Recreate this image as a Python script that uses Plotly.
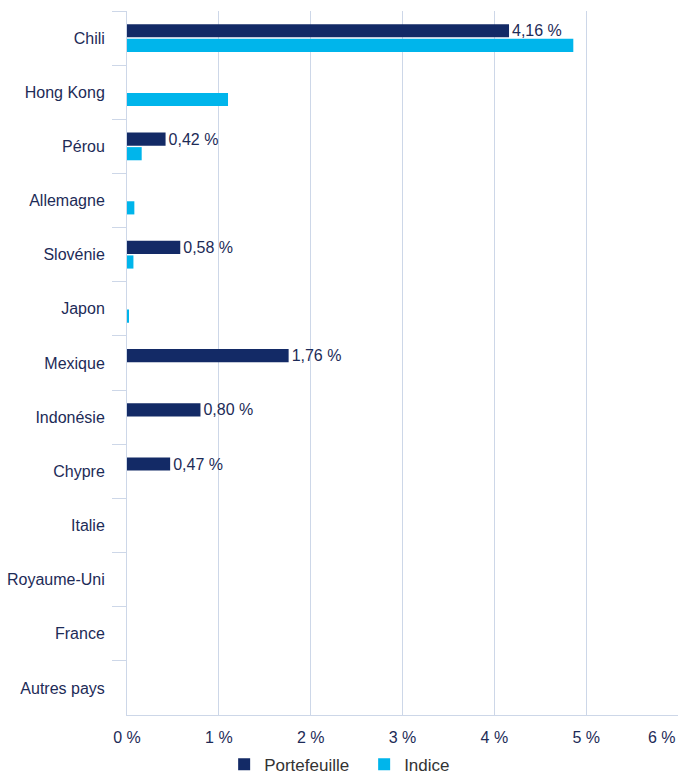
import plotly.graph_objects as go

# Répartition géographique (en % de l'actif)
pays = [
    "Chili", "Hong Kong", "Pérou", "Allemagne", "Slovénie", "Japon", "Mexique",
    "Indonésie", "Chypre", "Italie", "Royaume-Uni", "France", "Autres pays",
]
portefeuille = [4.16, None, 0.42, None, 0.58, None, 1.76, 0.80, 0.47, None, None, None, None]
indice = [4.86, 1.10, 0.16, 0.08, 0.07, 0.02, None, None, None, None, None, None, None]

x_ticks = [0, 1, 2, 3, 4, 5, 6]
x_tick_labels = ["0 %", "1 %", "2 %", "3 %", "4 %", "5 %", "6 %"]

NAVY = "#132a66"
CYAN = "#00b5eb"
TEXT = "#1d2b57"
GRID = "#cdd7e8"


def fmt(v):
    return "" if v is None else f"{v:.2f}".replace(".", ",") + " %"


fig = go.Figure()
fig.add_trace(go.Bar(
    name="Portefeuille",
    y=pays,
    x=portefeuille,
    orientation="h",
    marker=dict(color=NAVY, line=dict(width=0)),
    text=[fmt(v) for v in portefeuille],
    textposition="outside",
    constraintext="none",
    textfont=dict(size=16, color=TEXT),
    cliponaxis=False,
))
fig.add_trace(go.Bar(
    name="Indice",
    y=pays,
    x=indice,
    orientation="h",
    marker=dict(color=CYAN, line=dict(width=0)),
))

fig.update_layout(
    width=678,
    height=776,
    margin=dict(l=127, r=0, t=11, b=61, autoexpand=False),
    paper_bgcolor="white",
    plot_bgcolor="white",
    font=dict(family="Arial, Liberation Sans, sans-serif", size=16, color=TEXT),
    barmode="group",
    bargap=0.46,
    bargroupgap=0.1,
    showlegend=True,
    legend=dict(
        orientation="h",
        xref="container",
        yref="container",
        x=0.3306,
        xanchor="left",
        y=0.0145,
        yanchor="middle",
        entrywidth=95,
        font=dict(size=17, color="#333333"),
    ),
    xaxis=dict(
        range=[0, 6],
        tickvals=x_ticks,
        ticktext=x_tick_labels,
        showgrid=True,
        gridcolor=GRID,
        gridwidth=1,
        zeroline=False,
        showline=True,
        linecolor=GRID,
        ticks="",
        ticklabelstandoff=8,
        tickfont=dict(size=16, color=TEXT),
        automargin=False,
    ),
    yaxis=dict(
        autorange="reversed",
        showgrid=False,
        showline=True,
        linecolor=GRID,
        linewidth=1,
        ticks="outside",
        tickson="boundaries",
        ticklen=14,
        tickcolor=GRID,
        ticklabelstandoff=18,
        tickfont=dict(size=16, color=TEXT),
        automargin=False,
    ),
)

# le libellé "6 %" déborde du bord droit : on le place à gauche de la dernière graduation
fig.add_annotation(
    x=6, xref="x", y=0, yref="paper",
    text=x_tick_labels[-1], showarrow=False,
    xanchor="right", yanchor="middle", yshift=-22,
    font=dict(size=16, color=TEXT),
)

# la page a une marge de 8 px par défaut : on la retire
fig.write_html(
    "out.html",
    config={"displayModeBar": False},
    post_script="document.body.style.margin='0';",
)
